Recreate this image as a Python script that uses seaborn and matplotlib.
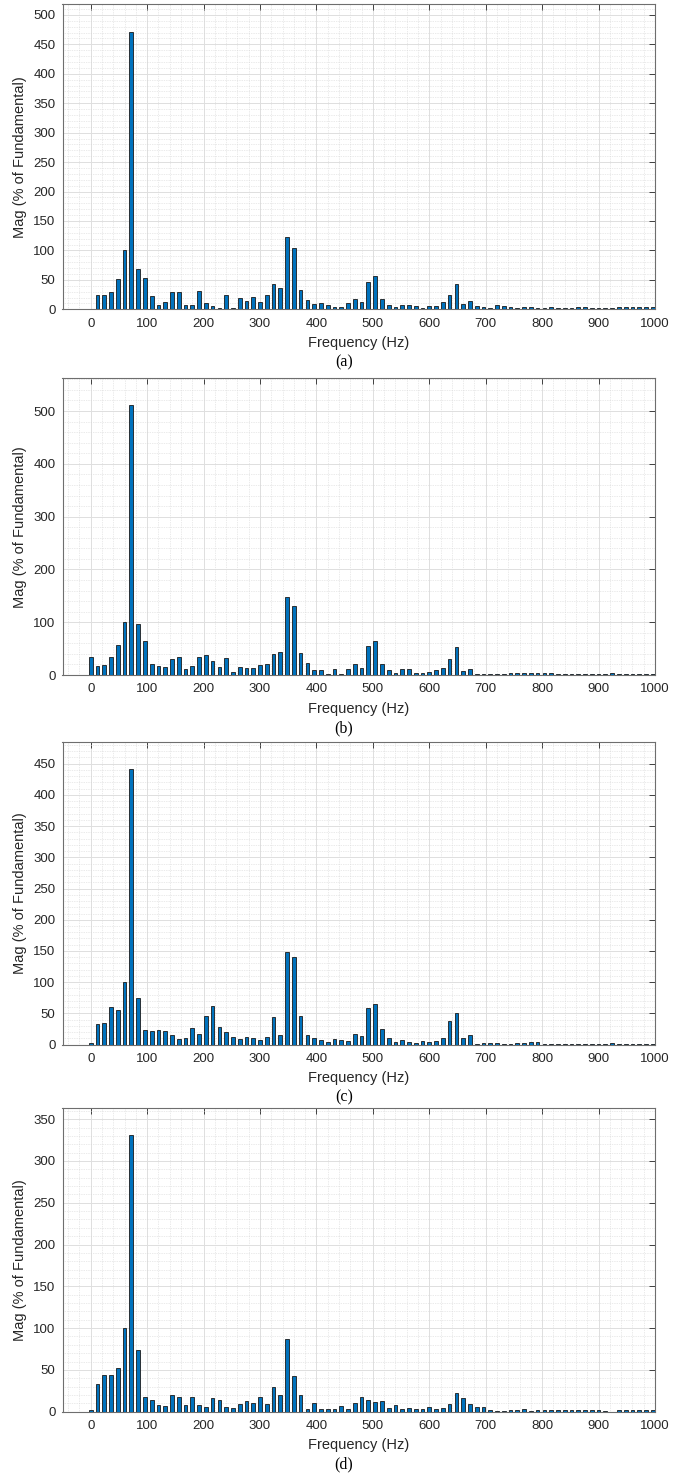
import numpy as np
import pandas as pd
import matplotlib
matplotlib.use("Agg")
import matplotlib.pyplot as plt
from matplotlib.ticker import MultipleLocator
import seaborn as sns

# ---------------- data ----------------
freqs = [12 * i for i in range(84)]  # Hz, FFT bins

mag_a = [1, 25, 24, 29, 51, 100, 471, 69, 54, 23,
         7, 13, 30, 30, 8, 7, 31, 10, 5, 2,
         24, 2, 19, 14, 21, 12, 24, 43, 36, 122,
         104, 32, 15, 8.5, 10, 7, 3.4, 4.5, 11, 18,
         13, 46, 57, 17.5, 8, 4, 8, 8, 5.7, 2,
         6, 6, 13, 25, 43, 9.6, 14, 5.7, 4, 2.8,
         7.4, 5.7, 3.4, 2.3, 4.5, 4.5, 2.8, 1.7, 4, 2.8,
         2.8, 2.8, 3.2, 3.2, 2.8, 2.8, 2.3, 1.7, 4.5, 4,
         3.4, 3.4, 3.4, 3.4]
mag_b = [33.5, 17, 19.6, 35, 57, 100, 512, 96, 65, 20,
         17, 14.5, 30, 35, 11, 17, 35, 37, 27, 15,
         33, 5, 16, 14, 13, 18, 21, 39, 43, 148,
         131, 42, 23, 9, 9.5, 1.5, 11, 2, 11, 21,
         14, 54, 64, 20, 10, 4, 11, 11, 3, 3,
         6, 10, 14, 30, 53, 7.5, 12, 1, 2, 2.5,
         2, 2, 3, 4, 3, 3, 3, 3.5, 3, 2.5,
         2.5, 2.5, 2.5, 2.5, 2.5, 2, 2.5, 4, 2.5, 2,
         2, 2, 2, 2]
mag_c = [2, 33, 34, 61, 55, 100, 442, 75, 23.5, 22,
         23.5, 22.4, 15, 8.5, 10, 26.7, 17, 46, 62, 29,
         20, 13, 9.6, 11.7, 10, 7.5, 12, 45, 15, 148,
         141, 46, 15.5, 10.7, 8, 4.8, 9, 7.5, 6, 17.6,
         14.4, 59, 65, 25, 11, 3.7, 7.5, 4.3, 2.7, 5.3,
         4.8, 5.9, 11, 38, 50, 11, 15, 1, 2, 3,
         2, 1, 0.5, 3, 2.7, 4, 5, 1, 1, 1,
         1, 1, 1, 1, 1, 1, 1, 2, 1, 1,
         1, 1, 1, 1]
mag_d = [1.6, 32.7, 44, 44, 52, 100, 331, 74, 17.5, 14,
         8, 7, 20, 17, 8, 17.5, 8, 5.6, 16, 14.4,
         5.6, 4.8, 9.6, 12.8, 10.8, 18, 9.6, 30, 19.5, 87,
         43, 20, 3.2, 10.8, 2.8, 3.6, 3.6, 6.8, 2.8, 10,
         17, 14, 12, 13, 4.4, 7.6, 3.6, 4, 3.6, 3.6,
         6, 3.2, 4.8, 8.8, 22.7, 16.7, 9.6, 5.2, 5.6, 2.4,
         1.2, 1.2, 2.4, 2.4, 3.6, 1.2, 2.4, 2.4, 1.6, 1.6,
         1.6, 1.6, 1.6, 1.6, 1.6, 1.6, 0.4, 0, 2.4, 2,
         2, 1.6, 1.6, 1.6]

panel_labels = ["(a)", "(b)", "(c)", "(d)"]
xticks = list(range(0, 1001, 100))
ylims = [518, 562, 485, 363]
ymajor = [50, 100, 50, 50]
yminor = [10, 20, 10, 10]
ytop_tick = [500, 500, 450, 350]

# ---------------- style ----------------
sns.set_style("white")
plt.rcParams["font.family"] = ["Liberation Sans", "DejaVu Sans"]

W, H = 688, 1478
fig = plt.figure(figsize=(W / 100, H / 100), dpi=100)

# axes boxes in pixels: (top, bottom)
boxes = [(4.3, 309.3), (378.3, 675.0), (741.7, 1044.7), (1108.3, 1411.7)]
left_px, right_px = 62.5, 655.0

bar_color = "#0072BD"
txt_color = "#262626"

for i, (mags, (top, bot)) in enumerate(zip([mag_a, mag_b, mag_c, mag_d], boxes)):
    ax = fig.add_axes([left_px / W, 1 - bot / H, (right_px - left_px) / W, (bot - top) / H])
    df = pd.DataFrame({"Frequency": freqs, "Mag": mags})
    sns.barplot(data=df, x="Frequency", y="Mag", native_scale=True, width=0.55,
                color=bar_color, saturation=1, edgecolor="#1a1a1a", linewidth=0.6,
                errorbar=None, ax=ax, zorder=3)
    ax.set_xlim(-50, 1000)
    ax.set_ylim(0, ylims[i])
    ax.set_xticks(xticks)
    ax.set_yticks(np.arange(0, ytop_tick[i] + 1, ymajor[i]))
    ax.xaxis.set_minor_locator(MultipleLocator(20))
    ax.yaxis.set_minor_locator(MultipleLocator(yminor[i]))
    ax.set_axisbelow(True)
    ax.grid(which="major", color="#dedede", linewidth=0.7, zorder=0)
    ax.grid(which="minor", color="#d6d6d6", linewidth=0.5, linestyle=(0, (1, 1.5)), zorder=0)
    ax.tick_params(which="major", direction="in", length=4, width=0.6, colors=txt_color,
                   top=True, right=True, labelsize=9.5)
    ax.tick_params(axis="x", which="major", pad=6)
    ax.tick_params(axis="y", which="major", pad=5)
    ax.tick_params(which="minor", length=0, top=True, right=True)
    for s in ax.spines.values():
        s.set_color("#6e6e6e")
        s.set_linewidth(0.8)
    ax.set_xlabel("Frequency (Hz)", fontsize=10.5, color=txt_color, labelpad=4.5)
    ax.set_ylabel("Mag (% of Fundamental)", fontsize=10.5, color=txt_color, labelpad=4.5)
    fig.text(0.5, 1 - (bot + 53) / H, panel_labels[i], ha="center", va="center",
             fontsize=11.5, family="Liberation Serif", color="black")

fig.savefig("out.png", dpi=100)
